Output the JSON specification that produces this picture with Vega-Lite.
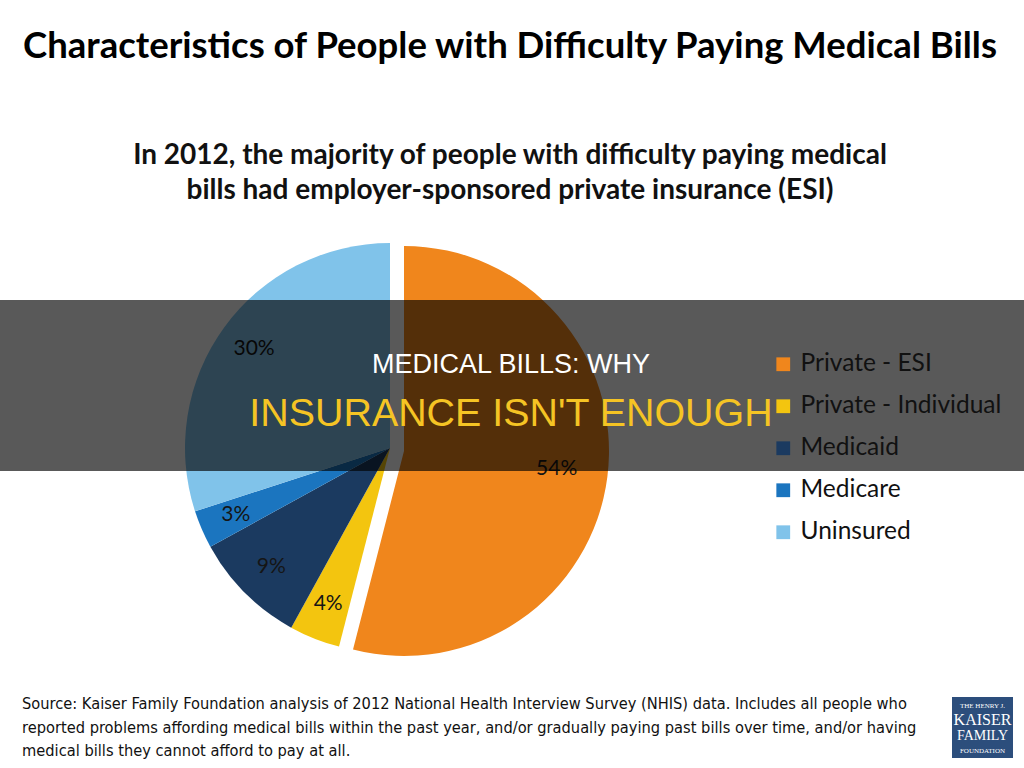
{
  "$schema": "https://vega.github.io/schema/vega-lite/v6.json",
  "width": 780,
  "height": 456,
  "autosize": {"type": "none"},
  "padding": {"top": 220, "left": 0, "right": 244, "bottom": 92},
  "background": "#ffffff",
  "config": {"view": {"stroke": null}},
  "title": {
    "text": "Characteristics of People with Difficulty Paying Medical Bills",
    "subtitle": ["In 2012, the majority of people with difficulty paying medical", "bills had employer-sponsored private insurance (ESI)"],
    "anchor": "middle",
    "frame": "group",
    "dx": 120,
    "font": "Lato",
    "fontSize": 36.5,
    "fontWeight": "bold",
    "color": "#000000",
    "subtitleFont": "Lato",
    "subtitleFontSize": 28,
    "subtitleFontWeight": "bold",
    "subtitleColor": "#111111",
    "subtitleLineHeight": 35,
    "subtitlePadding": 77,
    "offset": 15
  },
  "datasets": {
    "slices": [
      {"cat": "Private - ESI", "pct": 54, "label": "54%", "o": 1},
      {"cat": "Private - Individual", "pct": 4, "label": "4%", "o": 2},
      {"cat": "Medicaid", "pct": 9, "label": "9%", "o": 3},
      {"cat": "Medicare", "pct": 3, "label": "3%", "o": 4},
      {"cat": "Uninsured", "pct": 30, "label": "30%", "o": 5}
    ],
    "one": [{"note": "annotation"}]
  },
  "data": {"name": "slices"},
  "layer": [
    {
      "mark": {"type": "arc", "outerRadius": 205},
      "encoding": {
        "theta": {"field": "pct", "type": "quantitative", "stack": true},
        "order": {"field": "o", "type": "quantitative"},
        "color": {
          "field": "cat",
          "type": "nominal",
          "sort": ["Private - ESI", "Private - Individual", "Medicaid", "Medicare", "Uninsured"],
          "scale": {
            "domain": ["Private - ESI", "Private - Individual", "Medicaid", "Medicare", "Uninsured"],
            "range": ["#F0861C", "#F3C50F", "#1B3A60", "#1B75BF", "#80C3EA"]
          },
          "legend": {
            "title": null,
            "orient": "none",
            "legendX": 771,
            "legendY": 132,
            "zindex": 0,
            "symbolType": "square",
            "symbolSize": 190,
            "symbolStrokeWidth": 0,
            "labelFont": "Lato",
            "labelFontSize": 24.5,
            "labelColor": "#111111",
            "labelOffset": 5,
            "labelLimit": 400,
            "rowPadding": 17,
            "padding": 0
          }
        },
        "opacity": {"condition": {"test": "datum.cat === 'Private - ESI'", "value": 0}, "value": 1}
      }
    },
    {
      "transform": [{"filter": "datum.cat === 'Private - ESI'"}],
      "mark": {"type": "arc", "outerRadius": 205, "xOffset": 14, "yOffset": 3},
      "encoding": {
        "theta": {"field": "pct", "type": "quantitative", "stack": true},
        "order": {"field": "o", "type": "quantitative"},
        "color": {"field": "cat", "type": "nominal"}
      }
    },
    {
      "mark": {"type": "text", "radius": 168, "font": "Lato", "fontSize": 21, "color": "#151515"},
      "encoding": {
        "theta": {"field": "pct", "type": "quantitative", "stack": true},
        "order": {"field": "o", "type": "quantitative"},
        "text": {"field": "label", "type": "nominal"}
      }
    },
    {
      "data": {"name": "one"},
      "mark": {"type": "rect", "color": "#000000", "opacity": 0.65, "zindex": 1},
      "encoding": {
        "x": {"value": 0},
        "x2": {"value": 1024},
        "y": {"value": 80},
        "y2": {"value": 251}
      }
    },
    {
      "data": {"name": "one"},
      "mark": {"type": "text", "font": "Liberation Sans", "fontSize": 27, "color": "#ffffff", "align": "center", "baseline": "alphabetic", "zindex": 2},
      "encoding": {
        "x": {"value": 511},
        "y": {"value": 153},
        "text": {"value": "MEDICAL BILLS: WHY"}
      }
    },
    {
      "data": {"name": "one"},
      "mark": {"type": "text", "font": "Liberation Sans", "fontSize": 39.4, "color": "#F5C424", "align": "center", "baseline": "alphabetic", "zindex": 2},
      "encoding": {
        "x": {"value": 511},
        "y": {"value": 206},
        "text": {"value": "INSURANCE ISN'T ENOUGH"}
      }
    },
    {
      "data": {"name": "one"},
      "mark": {"type": "text", "font": "DejaVu Sans Condensed", "fontSize": 16.3, "color": "#111111", "align": "left", "baseline": "alphabetic", "lineHeight": 23.5},
      "encoding": {
        "x": {"value": 22},
        "y": {"value": 489},
        "text": {"value": ["Source: Kaiser Family Foundation analysis of 2012 National Health Interview Survey (NHIS) data. Includes all people who", "reported problems affording medical bills within the past year, and/or gradually paying past bills over time, and/or having", "medical bills they cannot afford to pay at all."]}
      }
    },
    {
      "data": {"name": "one"},
      "mark": {"type": "rect", "color": "#2C4E7C"},
      "encoding": {
        "x": {"value": 952},
        "x2": {"value": 1013},
        "y": {"value": 477},
        "y2": {"value": 538}
      }
    },
    {
      "data": {"name": "one"},
      "mark": {"type": "text", "font": "Liberation Serif", "fontSize": 7, "color": "#ffffff", "align": "center"},
      "encoding": {"x": {"value": 982.5}, "y": {"value": 486}, "text": {"value": "THE HENRY J."}}
    },
    {
      "data": {"name": "one"},
      "mark": {"type": "text", "font": "Liberation Serif", "fontSize": 16, "color": "#ffffff", "align": "center"},
      "encoding": {"x": {"value": 982.5}, "y": {"value": 500}, "text": {"value": "KAISER"}}
    },
    {
      "data": {"name": "one"},
      "mark": {"type": "text", "font": "Liberation Serif", "fontSize": 14, "color": "#ffffff", "align": "center"},
      "encoding": {"x": {"value": 982.5}, "y": {"value": 516}, "text": {"value": "FAMILY"}}
    },
    {
      "data": {"name": "one"},
      "mark": {"type": "text", "font": "Liberation Serif", "fontSize": 7, "color": "#ffffff", "align": "center"},
      "encoding": {"x": {"value": 982.5}, "y": {"value": 531}, "text": {"value": "FOUNDATION"}}
    }
  ]
}
